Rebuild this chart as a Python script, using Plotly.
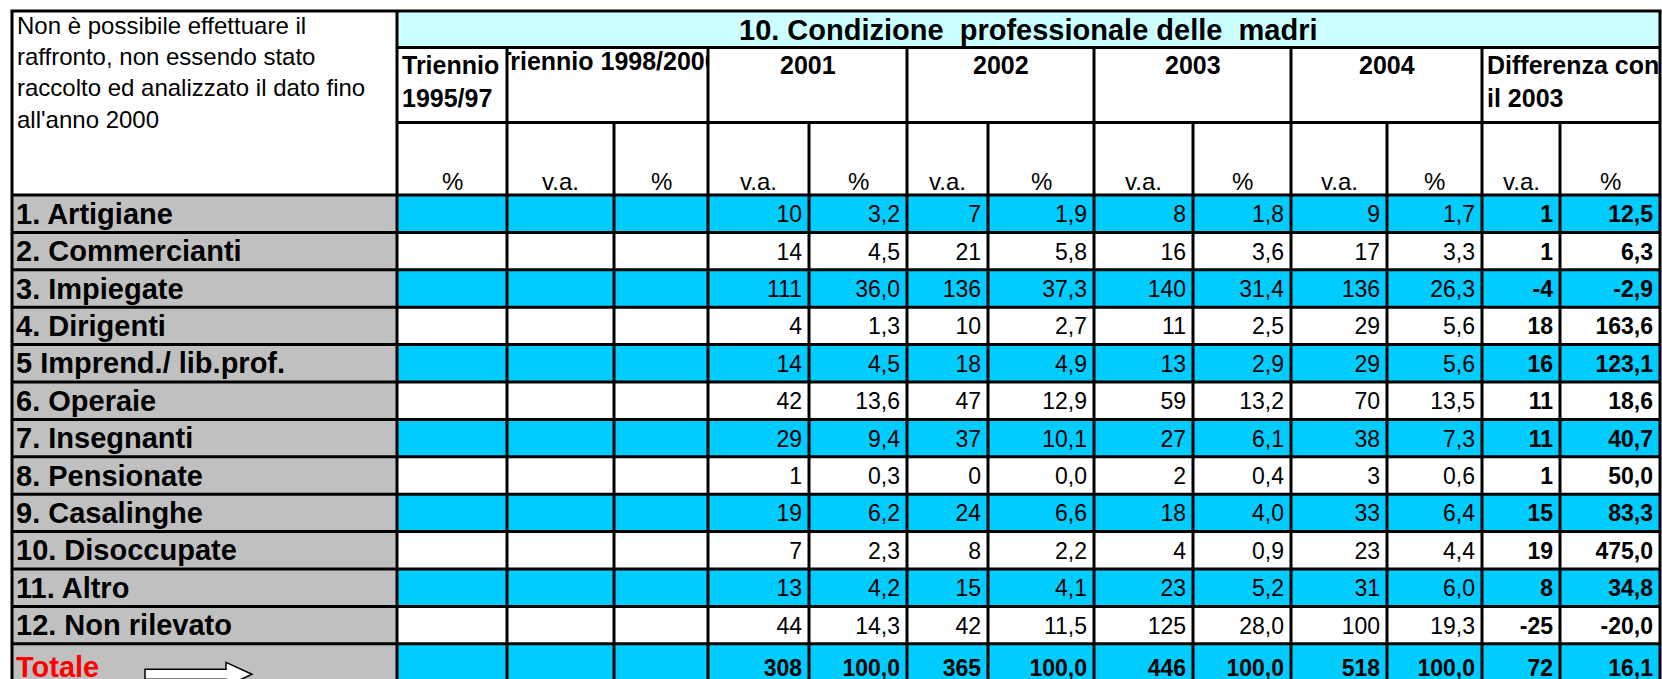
import plotly.graph_objects as go

# ---------------- data ----------------
categories = ["1. Artigiane", "2. Commercianti", "3. Impiegate", "4. Dirigenti",
              "5 Imprend./ lib.prof.", "6. Operaie", "7. Insegnanti", "8. Pensionate",
              "9. Casalinghe", "10. Disoccupate", "11. Altro", "12. Non rilevato"]
va_2001 = [10, 14, 111, 4, 14, 42, 29, 1, 19, 7, 13, 44]
pct_2001 = [3.2, 4.5, 36.0, 1.3, 4.5, 13.6, 9.4, 0.3, 6.2, 2.3, 4.2, 14.3]
va_2002 = [7, 21, 136, 10, 18, 47, 37, 0, 24, 8, 15, 42]
pct_2002 = [1.9, 5.8, 37.3, 2.7, 4.9, 12.9, 10.1, 0.0, 6.6, 2.2, 4.1, 11.5]
va_2003 = [8, 16, 140, 11, 13, 59, 27, 2, 18, 4, 23, 125]
pct_2003 = [1.8, 3.6, 31.4, 2.5, 2.9, 13.2, 6.1, 0.4, 4.0, 0.9, 5.2, 28.0]
va_2004 = [9, 17, 136, 29, 29, 70, 38, 3, 33, 23, 31, 100]
pct_2004 = [1.7, 3.3, 26.3, 5.6, 5.6, 13.5, 7.3, 0.6, 6.4, 4.4, 6.0, 19.3]
diff_va = [1, 1, -4, 18, 16, 11, 11, 1, 15, 19, 8, -25]
diff_pct = [12.5, 6.3, -2.9, 163.6, 123.1, 18.6, 40.7, 50.0, 83.3, 475.0, 34.8, -20.0]

total_label = "Totale"
total_va = [308, 365, 446, 518]
total_pct = [100.0, 100.0, 100.0, 100.0]
total_diff_va = 72
total_diff_pct = 16.1

title_text = "10. Condizione  professionale delle  madri"
note_lines = ["Non è possibile effettuare il", "raffronto, non essendo stato",
              "raccolto ed analizzato il dato fino", "all'anno 2000"]
period_headers = ["Triennio<br>1995/97", "Triennio 1998/2000", "2001", "2002",
                  "2003", "2004", "Differenza con<br>il 2003"]
sub_headers = ["%", "v.a.", "%", "v.a.", "%", "v.a.", "%", "v.a.", "%",
               "v.a.", "%", "v.a.", "%"]

# ---------------- layout geometry (pixels) ----------------
W, H = 1662, 679
XE = [12, 397, 507, 614, 708, 809, 907, 988, 1094, 1193, 1291, 1387, 1482, 1560, 1660]
Y_TOP, Y_TITLE, Y_YEAR, Y_HEAD = 11, 47.5, 122.5, 195
ROW_H = 37.4
n_rows = len(categories) + 1
row_tops = [Y_HEAD + ROW_H * k for k in range(n_rows)]
Y_END = 692
row_bots = row_tops[1:] + [Y_END]
period_spans = [(1, 2), (2, 4), (4, 6), (6, 8), (8, 10), (10, 12), (12, 14)]

FONT = "Liberation Sans"
CYAN, LIGHT, GREY = "#00CCFF", "#CCFFFF", "#C0C0C0"

def fmt_pct(v):
    return f"{v:.1f}".replace(".", ",")

# text vertical position in rows
row_text_y = [t + 21.5 for t in row_tops[:-1]] + [row_tops[-1] + 26]

fig = go.Figure()

# row labels
lab_text = [f"<b>{c}</b>" for c in categories] + [f"<b>{total_label}</b>"]
lab_col = ["black"] * len(categories) + ["#FF0000"]
fig.add_trace(go.Scatter(x=[16] * n_rows, y=row_text_y, mode="text", text=lab_text,
                         textposition="middle right",
                         textfont=dict(family=FONT, size=29, color=lab_col),
                         hoverinfo="skip", showlegend=False))

series = [(va_2001, str, False, total_va[0]), (pct_2001, fmt_pct, False, total_pct[0]),
          (va_2002, str, False, total_va[1]), (pct_2002, fmt_pct, False, total_pct[1]),
          (va_2003, str, False, total_va[2]), (pct_2003, fmt_pct, False, total_pct[2]),
          (va_2004, str, False, total_va[3]), (pct_2004, fmt_pct, False, total_pct[3]),
          (diff_va, str, True, total_diff_va), (diff_pct, fmt_pct, True, total_diff_pct)]
for i, (vals, f, bold, tot) in enumerate(series):
    col = 4 + i
    texts = [f"<b>{f(v)}</b>" if bold else f(v) for v in vals] + [f"<b>{f(tot)}</b>"]
    fig.add_trace(go.Scatter(x=[XE[col + 1] - 7] * n_rows, y=row_text_y, mode="text",
                             text=texts, textposition="middle left",
                             textfont=dict(family=FONT, size=23, color="black"),
                             hoverinfo="skip", showlegend=False))

# clipped header (Triennio 1998/2000) drawn as trace so borders/masks can clip it
a, b = period_spans[1]
fig.add_trace(go.Scatter(x=[(XE[a] + XE[b]) / 2], y=[64], mode="text",
                         text=[f"<b>{period_headers[1]}</b>"], textposition="middle center",
                         textfont=dict(family=FONT, size=25, color="black"),
                         hoverinfo="skip", showlegend=False))

shapes = []
# fills
shapes.append(dict(type="rect", x0=XE[1], x1=XE[-1], y0=Y_TOP, y1=Y_TITLE,
                   fillcolor=LIGHT, line=dict(width=0), layer="below"))
for k in range(n_rows):
    shapes.append(dict(type="rect", x0=XE[0], x1=XE[1], y0=row_tops[k], y1=row_bots[k],
                       fillcolor=GREY, line=dict(width=0), layer="below"))
    if k % 2 == 0:
        shapes.append(dict(type="rect", x0=XE[1], x1=XE[-1], y0=row_tops[k], y1=row_bots[k],
                           fillcolor=CYAN, line=dict(width=0), layer="below"))
# masks for overflowing header text
shapes.append(dict(type="rect", x0=492, x1=XE[2], y0=Y_TITLE + 2, y1=Y_YEAR - 2,
                   fillcolor="white", line=dict(width=0), layer="above"))
shapes.append(dict(type="rect", x0=XE[4], x1=XE[4] + 14, y0=Y_TITLE + 2, y1=Y_YEAR - 2,
                   fillcolor="white", line=dict(width=0), layer="above"))

def hline(y, x0, x1):
    shapes.append(dict(type="line", x0=x0, x1=x1, y0=y, y1=y,
                       line=dict(color="black", width=3), layer="above"))

def vline(x, y0, y1):
    shapes.append(dict(type="line", x0=x, x1=x, y0=y0, y1=y1,
                       line=dict(color="black", width=3), layer="above"))

hline(Y_TOP, XE[0] - 1.5, XE[-1] + 1.5)
hline(Y_TITLE, XE[1], XE[-1])
hline(Y_YEAR, XE[1], XE[-1])
for y in row_tops:
    hline(y, XE[0], XE[-1])
vline(XE[0], Y_TOP, Y_END)
vline(XE[-1], Y_TOP, Y_END)
vline(XE[1], Y_TOP, Y_END)
for (a, b) in period_spans[1:]:
    vline(XE[a], Y_TITLE, Y_END)
for c in [3, 5, 7, 9, 11, 13]:
    vline(XE[c], Y_YEAR, Y_END)

# arrow next to "Totale"
ax0, ax1, axt = 145, 226, 252
acy = row_tops[-1] + 30.5
bh, hh = 5, 12
path = (f"M {ax0} {acy - bh} L {ax1} {acy - bh} L {ax1} {acy - hh} L {axt} {acy} "
        f"L {ax1} {acy + hh} L {ax1} {acy + bh} L {ax0} {acy + bh} Z")
shapes.append(dict(type="path", path=path, fillcolor="white",
                   line=dict(color="black", width=1.5), layer="above"))

annotations = []
annotations.append(dict(x=(XE[1] + XE[-1]) / 2, y=(Y_TOP + Y_TITLE) / 2 + 1,
                        text=f"<b>{title_text}</b>", showarrow=False,
                        xanchor="center", yanchor="middle",
                        font=dict(family=FONT, size=29, color="black")))
annotations.append(dict(x=15, y=Y_TOP - 1, text="<br>".join(note_lines), showarrow=False,
                        xanchor="left", yanchor="top", align="left",
                        font=dict(family=FONT, size=24, color="black")))
for i, (a, b) in enumerate(period_spans):
    if i == 1:
        continue
    if "<br>" in period_headers[i]:
        annotations.append(dict(x=XE[a] + 3, y=Y_TITLE + 1, text=f"<b>{period_headers[i]}</b>",
                                showarrow=False, xanchor="left", yanchor="top", align="left",
                                font=dict(family=FONT, size=25, color="black")))
    else:
        annotations.append(dict(x=(XE[a] + XE[b]) / 2, y=Y_TITLE + 1,
                                text=f"<b>{period_headers[i]}</b>",
                                showarrow=False, xanchor="center", yanchor="top",
                                font=dict(family=FONT, size=25, color="black")))
for j, s in enumerate(sub_headers):
    c = 1 + j
    annotations.append(dict(x=(XE[c] + XE[c + 1]) / 2, y=181, text=s, showarrow=False,
                            xanchor="center", yanchor="middle",
                            font=dict(family=FONT, size=24, color="black")))
for an in annotations:
    an["xref"] = "x"
    an["yref"] = "y"

fig.update_layout(width=W, height=H, margin=dict(l=0, r=0, t=0, b=0),
                  paper_bgcolor="white", plot_bgcolor="white",
                  xaxis=dict(range=[0, W], visible=False, fixedrange=True),
                  yaxis=dict(range=[H, 0], visible=False, fixedrange=True),
                  shapes=shapes, annotations=annotations, showlegend=False)
fig.write_html("out.html",
               config={"displayModeBar": False, "staticPlot": True},
               post_script="document.body.style.margin='0';"
                           "document.body.style.overflow='hidden';")
